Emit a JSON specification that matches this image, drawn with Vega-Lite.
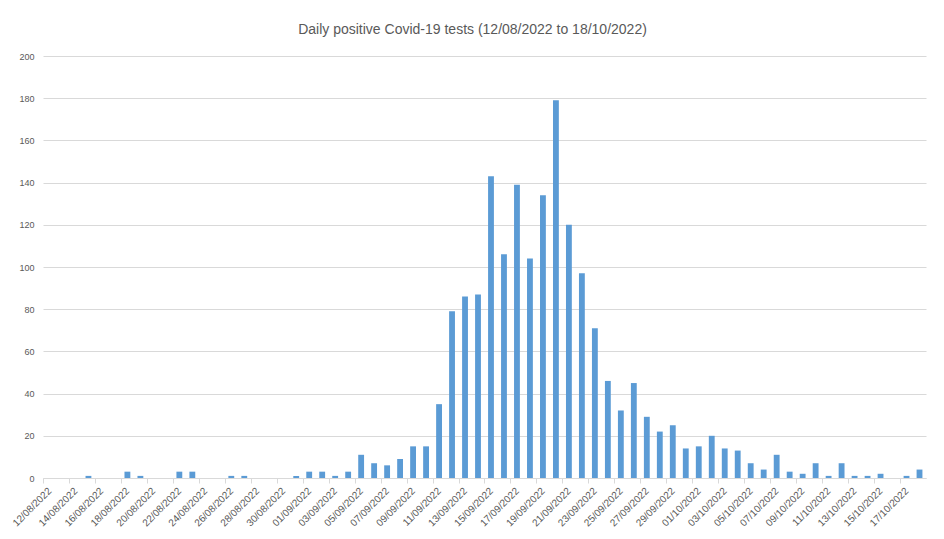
{
  "$schema": "https://vega.github.io/schema/vega-lite/v6.json",
  "width": 883,
  "height": 422,
  "autosize": {"type": "none"},
  "padding": {"left": 43, "top": 56, "right": 18, "bottom": 61},
  "background": "white",
  "title": {
    "text": "Daily positive Covid-19 tests (12/08/2022 to 18/10/2022)",
    "font": "Liberation Sans",
    "fontSize": 14,
    "fontWeight": "normal",
    "color": "#595959",
    "offset": 15,
    "dx": -12
  },
  "data": {
    "values": [
      {"date": "12/08/2022", "positives": 0},
      {"date": "13/08/2022", "positives": 0},
      {"date": "14/08/2022", "positives": 0},
      {"date": "15/08/2022", "positives": 1},
      {"date": "16/08/2022", "positives": 0},
      {"date": "17/08/2022", "positives": 0},
      {"date": "18/08/2022", "positives": 3},
      {"date": "19/08/2022", "positives": 1},
      {"date": "20/08/2022", "positives": 0},
      {"date": "21/08/2022", "positives": 0},
      {"date": "22/08/2022", "positives": 3},
      {"date": "23/08/2022", "positives": 3},
      {"date": "24/08/2022", "positives": 0},
      {"date": "25/08/2022", "positives": 0},
      {"date": "26/08/2022", "positives": 1},
      {"date": "27/08/2022", "positives": 1},
      {"date": "28/08/2022", "positives": 0},
      {"date": "29/08/2022", "positives": 0},
      {"date": "30/08/2022", "positives": 0},
      {"date": "31/08/2022", "positives": 1},
      {"date": "01/09/2022", "positives": 3},
      {"date": "02/09/2022", "positives": 3},
      {"date": "03/09/2022", "positives": 1},
      {"date": "04/09/2022", "positives": 3},
      {"date": "05/09/2022", "positives": 11},
      {"date": "06/09/2022", "positives": 7},
      {"date": "07/09/2022", "positives": 6},
      {"date": "08/09/2022", "positives": 9},
      {"date": "09/09/2022", "positives": 15},
      {"date": "10/09/2022", "positives": 15},
      {"date": "11/09/2022", "positives": 35},
      {"date": "12/09/2022", "positives": 79},
      {"date": "13/09/2022", "positives": 86},
      {"date": "14/09/2022", "positives": 87},
      {"date": "15/09/2022", "positives": 143},
      {"date": "16/09/2022", "positives": 106},
      {"date": "17/09/2022", "positives": 139},
      {"date": "18/09/2022", "positives": 104},
      {"date": "19/09/2022", "positives": 134},
      {"date": "20/09/2022", "positives": 179},
      {"date": "21/09/2022", "positives": 120},
      {"date": "22/09/2022", "positives": 97},
      {"date": "23/09/2022", "positives": 71},
      {"date": "24/09/2022", "positives": 46},
      {"date": "25/09/2022", "positives": 32},
      {"date": "26/09/2022", "positives": 45},
      {"date": "27/09/2022", "positives": 29},
      {"date": "28/09/2022", "positives": 22},
      {"date": "29/09/2022", "positives": 25},
      {"date": "30/09/2022", "positives": 14},
      {"date": "01/10/2022", "positives": 15},
      {"date": "02/10/2022", "positives": 20},
      {"date": "03/10/2022", "positives": 14},
      {"date": "04/10/2022", "positives": 13},
      {"date": "05/10/2022", "positives": 7},
      {"date": "06/10/2022", "positives": 4},
      {"date": "07/10/2022", "positives": 11},
      {"date": "08/10/2022", "positives": 3},
      {"date": "09/10/2022", "positives": 2},
      {"date": "10/10/2022", "positives": 7},
      {"date": "11/10/2022", "positives": 1},
      {"date": "12/10/2022", "positives": 7},
      {"date": "13/10/2022", "positives": 1},
      {"date": "14/10/2022", "positives": 1},
      {"date": "15/10/2022", "positives": 2},
      {"date": "16/10/2022", "positives": 0},
      {"date": "17/10/2022", "positives": 1},
      {"date": "18/10/2022", "positives": 4}
    ]
  },
  "mark": {"type": "bar", "color": "#5B9BD5"},
  "encoding": {
    "x": {
      "field": "date",
      "type": "ordinal",
      "sort": null,
      "scale": {"paddingInner": 0.55, "paddingOuter": 0.275},
      "axis": {
        "title": null,
        "values": ["12/08/2022","14/08/2022","16/08/2022","18/08/2022","20/08/2022","22/08/2022","24/08/2022","26/08/2022","28/08/2022","30/08/2022","01/09/2022","03/09/2022","05/09/2022","07/09/2022","09/09/2022","11/09/2022","13/09/2022","15/09/2022","17/09/2022","19/09/2022","21/09/2022","23/09/2022","25/09/2022","27/09/2022","29/09/2022","01/10/2022","03/10/2022","05/10/2022","07/10/2022","09/10/2022","11/10/2022","13/10/2022","15/10/2022","17/10/2022"],
        "labelAngle": -45,
        "labelAlign": "right",
        "labelBaseline": "middle",
        "labelFont": "Liberation Sans",
        "labelFontSize": 10,
        "labelColor": "#595959",
        "labelPadding": 6,
        "labelOffset": 6.5,
        "domainColor": "#D9D9D9",
        "tickColor": "#D9D9D9",
        "tickSize": 5,
        "tickOffset": -6.5,
        "grid": false
      }
    },
    "y": {
      "field": "positives",
      "type": "quantitative",
      "scale": {"domain": [0, 200]},
      "axis": {
        "title": null,
        "values": [0, 20, 40, 60, 80, 100, 120, 140, 160, 180, 200],
        "domain": false,
        "ticks": false,
        "gridColor": "#D9D9D9",
        "labelFont": "Liberation Sans",
        "labelFontSize": 9,
        "labelColor": "#595959",
        "labelPadding": 9
      }
    }
  },
  "config": {"view": {"stroke": null}}
}
